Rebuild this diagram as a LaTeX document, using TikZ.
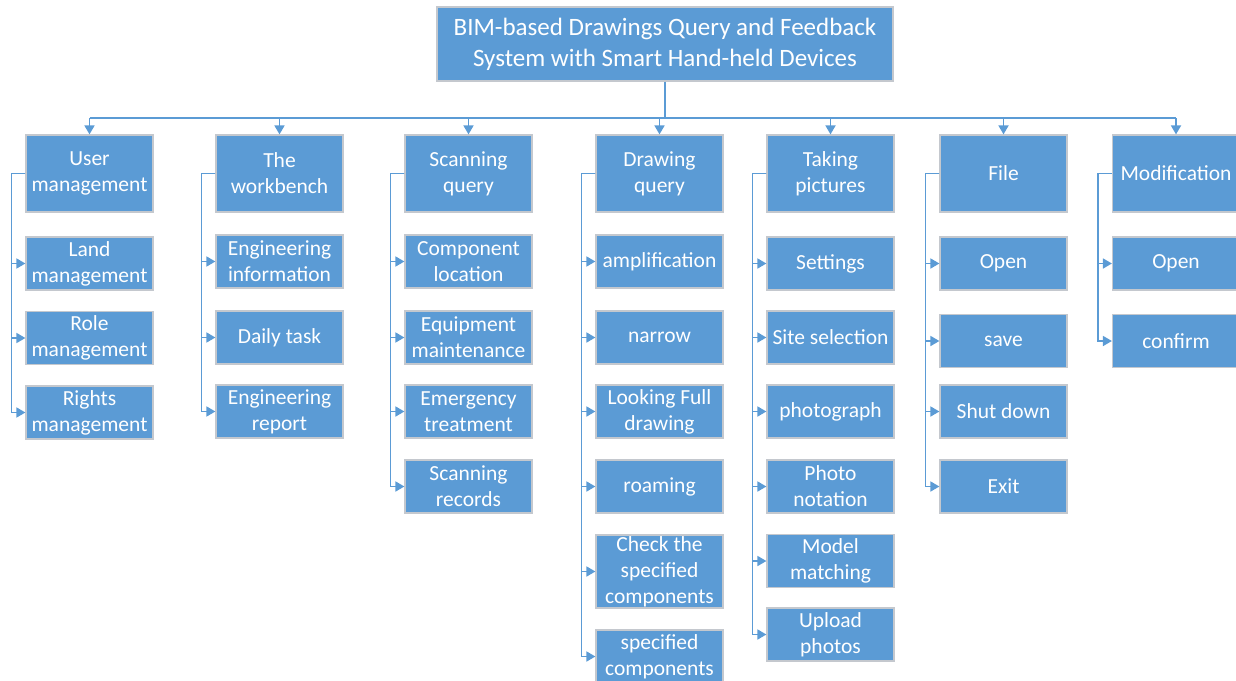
\documentclass[tikz,border=0pt]{standalone}
\usepackage{fontspec}
\setmainfont{Carlito}
\usetikzlibrary{arrows.meta}

\definecolor{boxblue}{RGB}{91,155,213}
\definecolor{boxedge}{RGB}{196,200,206}
\tikzset{
  box/.style={draw=boxedge,line width=1.2pt,fill=boxblue,text=white,align=center,
    inner sep=0pt,minimum width=127pt,font=\fontsize{21.5}{26}\selectfont},
  head/.style={box,minimum height=77pt},
  leaf/.style={box,minimum height=53pt},
  link/.style={draw=boxblue,line width=1.7pt},
  arr/.style={link,-{Triangle[length=9pt,width=10pt]}}
}

\begin{document}
\begin{tikzpicture}[x=1pt,y=-1pt]
\useasboundingbox (0,0) rectangle (1236,680);
\node[box,minimum width=456pt,minimum height=74pt,font=\fontsize{25}{31}\selectfont] (root) at (665,44)
  {BIM-based Drawings Query and Feedback\\System with Smart Hand-held Devices};
% first level
\foreach \n/\x/\txt in {user/89.5/{User\\management},bench/279.5/{The\\workbench},
    scan/468.5/{Scanning\\query},drw/659.5/{Drawing\\query},photo/830.5/{Taking\\pictures},
    file/1003.5/{File},modif/1176/{Modification}}
  \node[head] (\n) at (\x,173.5) {\txt};
\coordinate (bus) at (root |- 0,118);
\draw[link] (root) -- (bus);
\draw[link] (user |- bus) -- (modif |- bus);
\foreach \n in {user,bench,scan,drw,photo,file,modif}
  \draw[arr] (\n |- bus) -- (\n.north);
% second level
\foreach \p/\n/\y/\txt in {user/land/263.5/{Land\\management},user/role/338/{Role\\management},
    user/rights/412.5/{Rights\\management},
    bench/info/261.5/{Engineering\\information},bench/daily/337.5/{Daily task},
    bench/report/411.5/{Engineering\\report},
    scan/loc/261.5/{Component\\location},scan/equip/337.5/{Equipment\\maintenance},
    scan/emerg/411.5/{Emergency\\treatment},scan/rec/486.5/{Scanning\\records},
    drw/amp/261.5/{amplification},drw/narrow/337.5/{narrow},drw/full/411.5/{Looking Full\\drawing},
    drw/roam/486.5/{roaming},drw/spec/656.5/{specified\\components},
    photo/set/263.5/{Settings},photo/site/337.5/{Site selection},photo/pg/411.5/{photograph},
    photo/note/486.5/{Photo\\notation},photo/model/561/{Model\\matching},photo/upload/634.5/{Upload\\photos},
    file/open/263.5/{Open},file/save/341/{save},file/shut/411.5/{Shut down},file/exit/486.5/{Exit},
    modif/mopen/263.5/{Open},modif/confirm/341/{confirm}}
{
  \node[leaf] (\n) at (\p |- 0,\y) {\txt};
  \draw[arr] (\p.west) -- ++(-14,0) |- (\n);
}
\node[box,minimum height=73pt] (check) at (drw |- 0,571.5) {Check the\\specified\\components};
\draw[arr] (drw.west) -- ++(-14,0) |- (check);
\end{tikzpicture}
\end{document}
